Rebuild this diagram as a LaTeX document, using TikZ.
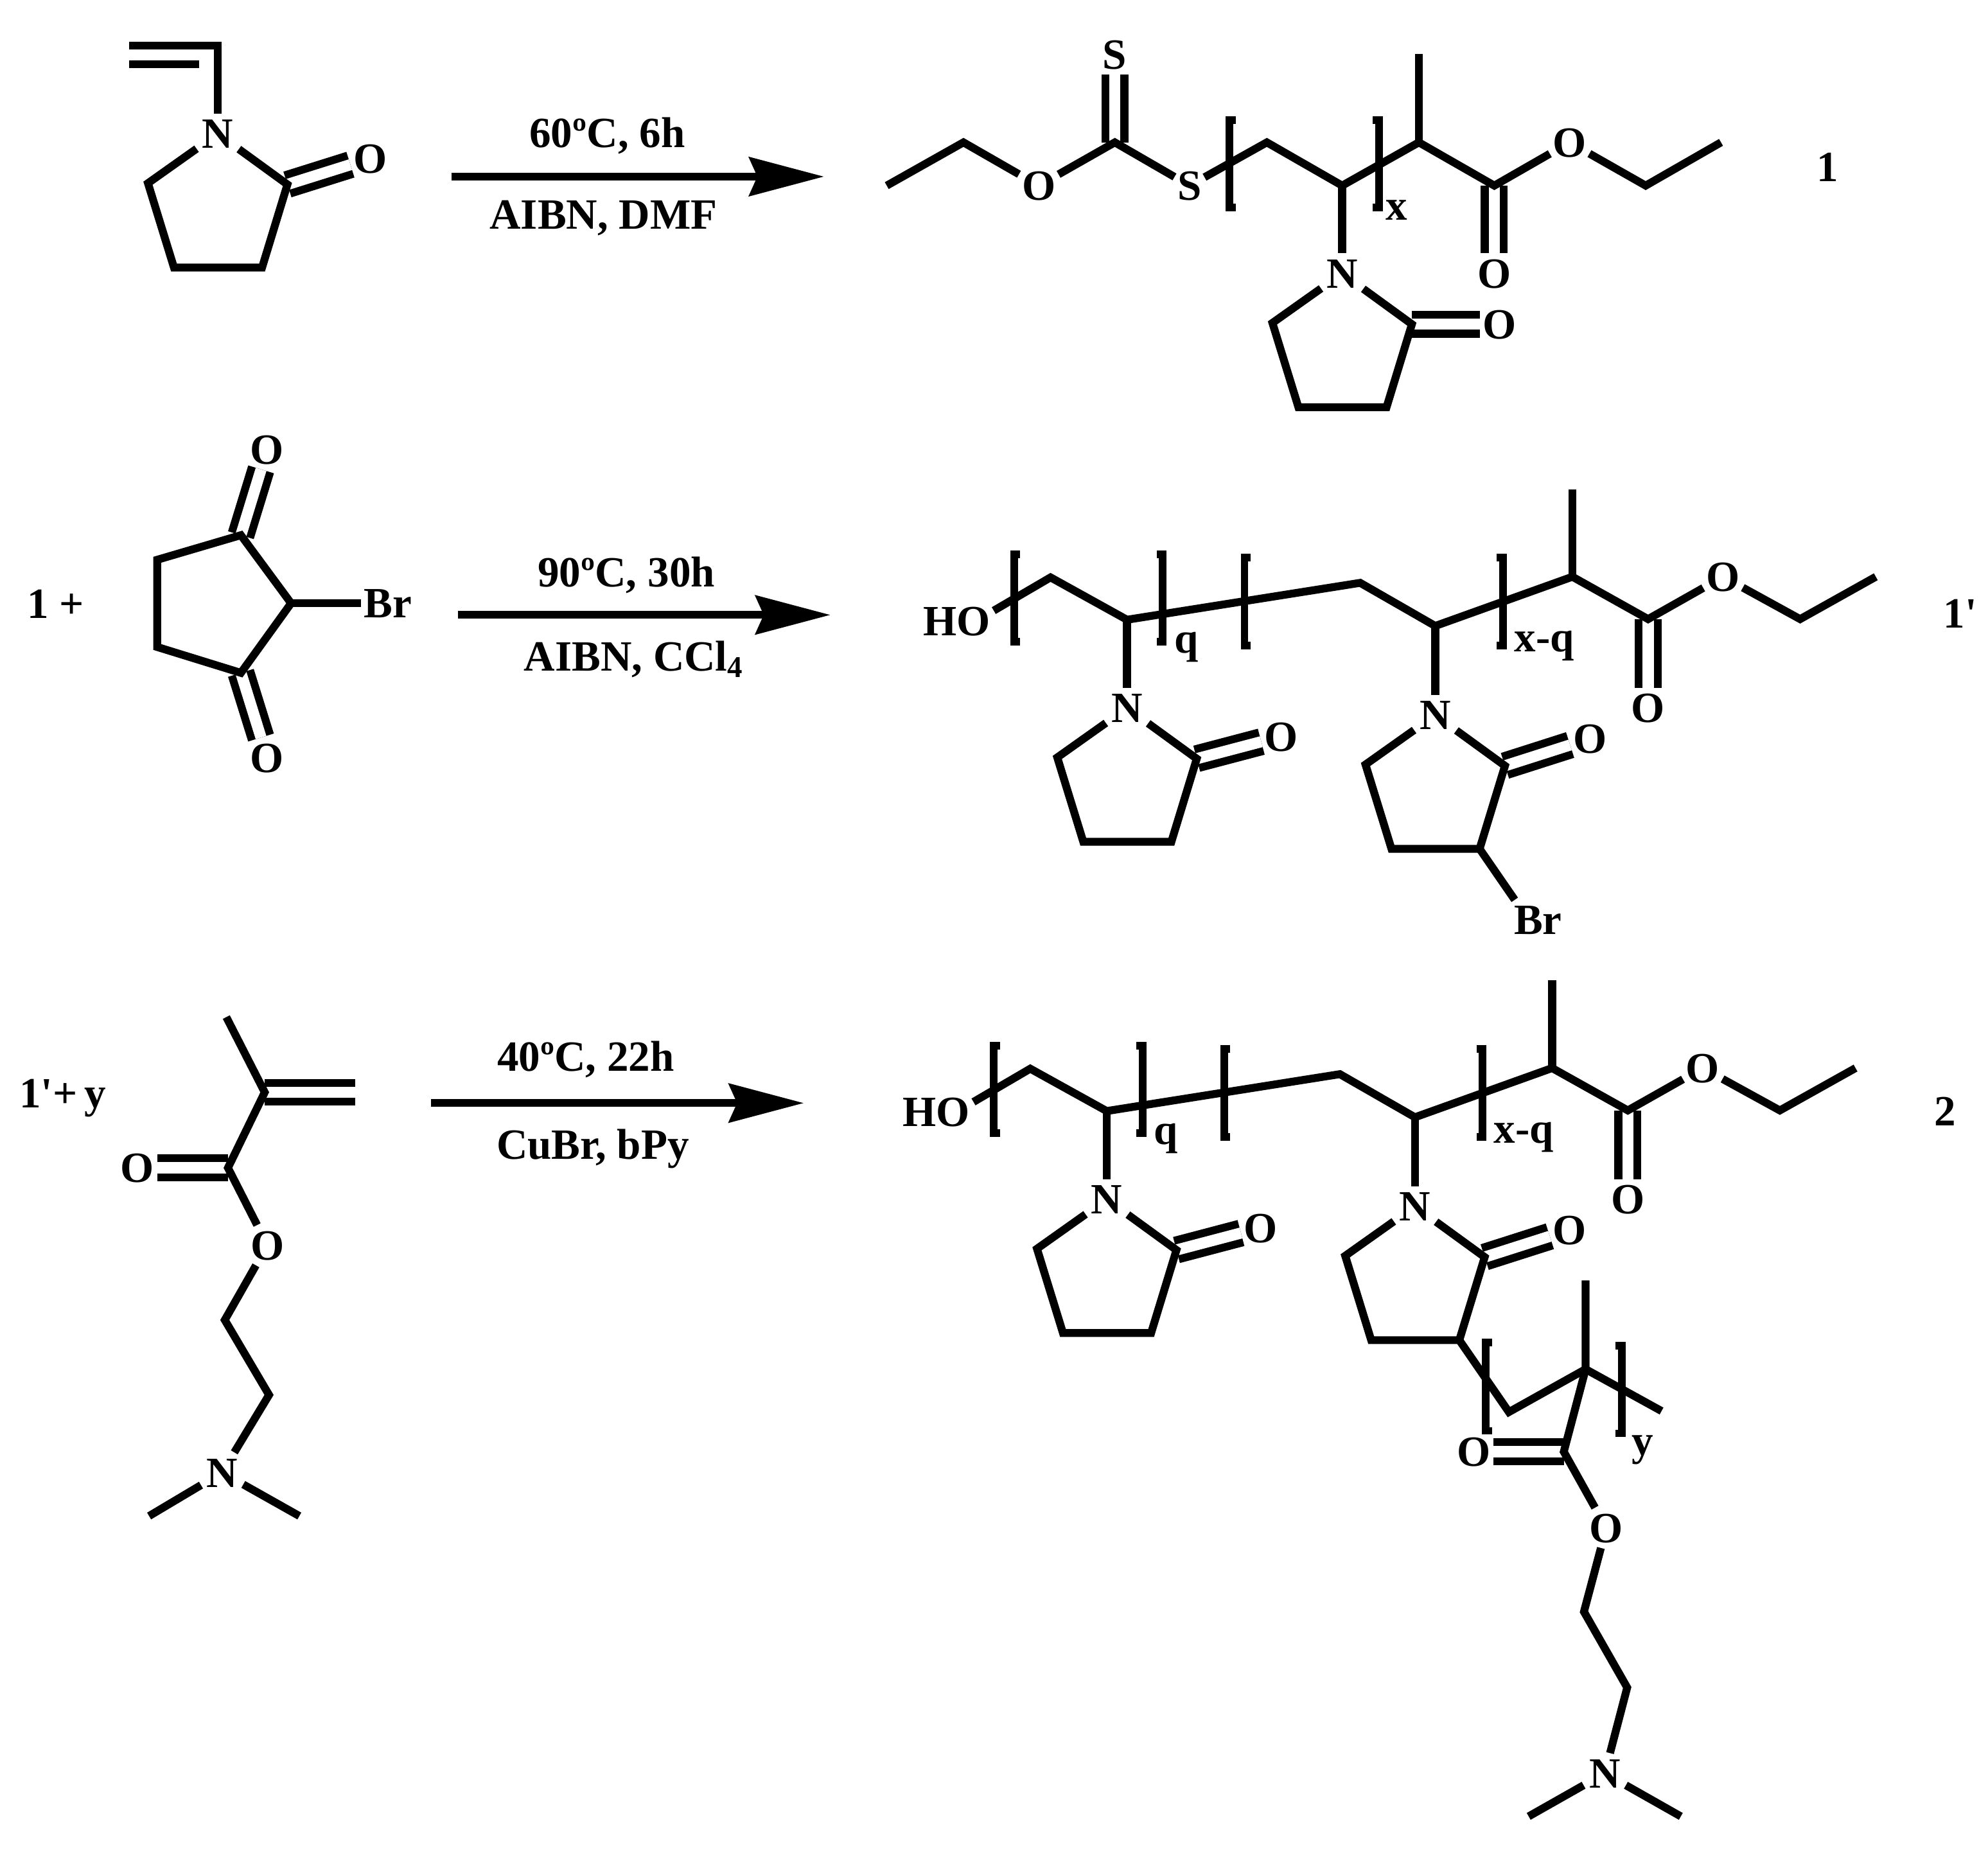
\documentclass[tikz,border=0pt]{standalone}
\usepackage{fontspec}
\setmainfont{Liberation Serif}
\usetikzlibrary{arrows.meta}
\tikzset{
    bond/.style={line width=3.1pt},
    dbl/.style={double,line width=3.1pt,double distance=4.4pt},
    brack/.style={line width=3pt},
    rarrow/.style={line width=3.1pt,-{Stealth[length=29.5pt,width=15.2pt,inset=3.2pt]}},
    atom/.style={inner xsep=1pt,inner ysep=2pt,text height=11.5pt,text depth=0pt,font=\fontsize{17}{20}\selectfont\bfseries},
    natom/.style={atom,inner xsep=2pt},
    lab/.style={anchor=base,inner sep=0pt,font=\fontsize{17}{20}\selectfont\bfseries}
}
\begin{document}
\begin{tikzpicture}[x=.5pt,y=-.5pt]
\useasboundingbox (0,0) rectangle (1568,1464.6);

\foreach \n/\xs/\xe/\ya/\xa/\yb/\ta/\xc/\yc/\tc in {
    1/356/650/139.3/479/116.2/{60ºC, 6h}/476/180.7/{AIBN, DMF},
    2/361/655/485/494/463/{90ºC, 30h}/500/529/{AIBN, CCl\textsubscript{4}},
    3/340/634/870/462/845/{40ºC, 22h}/467.6/914.3/{CuBr, bPy}}
{
    \coordinate (ar\n s) at (\xs,\ya);
    \coordinate (ar\n e) at (\xe,\ya);
    \draw[rarrow] (ar\n s) -- (ar\n e);
    \node[lab] (up\n) at (\xa,\yb) {\ta};
    \node[lab] (dn\n) at (\xc,\yc) {\tc};
}

\node[lab] (no1) at (1441.7,143) {1};
\node[lab] (no1p) at (1546,495) {1\textquotesingle};
\node[lab] (no2) at (1534,888) {2};
\node[lab] (plus1) at (44,487.5) {1 +};
\node[lab] (plus2) at (49.6,873.5) {1\textquotesingle+\,y};

% the lactam rings
\foreach \r/\x/\y/\ox/\oy in {
    a/171.7/105.5/292/125,
    m/1058.6/215.7/1182.7/255.7,
    bl/888.9/558.4/1010.4/580.9,
    br/1132/564/1254/582.6,
    cl/872.9/945.9/994.4/968.4,
    cr/1116/951.5/1238/970.1}
{
    \node[natom] (\r-N) at (\x,\y) {N};
    \node[atom] (\r-O) at (\ox,\oy) {O};
    \coordinate (\r-2) at (\x-55,\y+39);
    \coordinate (\r-3) at (\x-34.5,\y+105.5);
    \coordinate (\r-4) at (\x+35,\y+105.5);
    \coordinate (\r-5) at (\x+55,\y+40);
    \draw[dbl] (\r-5) -- (\r-O);
    \draw[bond] (\r-N) -- (\r-2) -- (\r-3) -- (\r-4) -- (\r-5) -- (\r-N);
}

% vinyl monomer
\coordinate (v1) at (102,35.8);
\coordinate (v2) at (171.7,35.8);
\coordinate (v3) at (102,50.6);
\coordinate (v4) at (157,50.6);
\draw[bond] (v1) -- (v2) -- (a-N);
\draw[bond] (v3) -- (v4);

% chain of product 1
\coordinate (m1) at (699.4,146.4);
\coordinate (m2) at (759.9,112.3);
\node[atom] (mO1) at (819.3,146.4) {O};
\coordinate (m3) at (879.3,112.3);
\node[atom] (mS1) at (879.3,43) {S};
\node[atom] (mS2) at (938.2,146.4) {S};
\coordinate (m4) at (999.2,112.3);
\coordinate (m5) at (1058.6,146.4);
\coordinate (m6) at (1119.1,112.3);
\coordinate (m7) at (1119.1,42.6);
\coordinate (m8) at (1178.6,146.4);
\node[atom] (mO2) at (1178.6,215.7) {O};
\node[atom] (mO3) at (1238,112.3) {O};
\coordinate (m9) at (1298,146.4);
\coordinate (m10) at (1357.4,112.3);
\draw[dbl] (m3) -- (mS1);
\draw[dbl] (m8) -- (mO2);
\draw[bond] (m1) -- (m2) -- (mO1) -- (m3) -- (mS2) -- (m4) -- (m5) -- (m6) -- (m8) -- (mO3) -- (m9) -- (m10);
\draw[bond] (m6) -- (m7);
\draw[bond] (m5) -- (m-N);
\node[lab] (mx) at (1101.6,173.3) {x};
\foreach \x/\d in {969.7/4.8,1087.6/-4.8}
{
    \draw[brack] (\x+\d,94.6) -- (\x,94.6) -- (\x,163.7) -- (\x+\d,163.7);
}

% the same chain in 1' and 2
\foreach \p/\dx/\dy in {b/0/0,c/-16/387.5}
{
    \begin{scope}[shift={(\dx,\dy)}]
    \node[atom] (\p HO) at (754.5,489.6) {HO};
    \coordinate (\p 0) at (783.8,481.6);
    \coordinate (\p 1) at (828.6,455.4);
    \coordinate (\p 2) at (888.9,488.8);
    \coordinate (\p 3) at (1072.8,459.7);
    \coordinate (\p 4) at (1132,493.7);
    \coordinate (\p 5) at (1240.2,454.9);
    \coordinate (\p 6) at (1240.2,385.8);
    \coordinate (\p 7) at (1299.9,488.3);
    \node[atom] (\p O1) at (1299.9,558.4) {O};
    \node[atom] (\p O2) at (1359,454.9) {O};
    \coordinate (\p 8) at (1419.8,488.3);
    \coordinate (\p 9) at (1479.5,454.9);
    \draw[dbl] (\p 7) -- (\p O1);
    \draw[bond] (\p 0) -- (\p 1) -- (\p 2) -- (\p 3) -- (\p 4) -- (\p 5) -- (\p 7) -- (\p O2) -- (\p 8) -- (\p 9);
    \draw[bond] (\p 5) -- (\p 6);
    \draw[bond] (\p 2) -- (\p l-N);
    \draw[bond] (\p 4) -- (\p r-N);
    \node[lab] (\p q) at (935.8,515) {q};
    \node[lab] (\p xq) at (1218,514) {x-q};
    \foreach \x/\d/\ya/\yb in {799.8/4.8/437.3/506,917.1/-4.8/437.3/506,981.6/4.8/439.7/509.3,1185.3/-4.8/439.7/509.3}
    {
        \draw[brack] (\x+\d,\ya) -- (\x,\ya) -- (\x,\yb) -- (\x+\d,\yb);
    }
    \end{scope}
}

% bromide
\node[atom] (brBr) at (1213,725.6) {Br};
\draw[bond] (br-4) -- (brBr.139);

% graft of 2
\coordinate (t1) at (1190.1,1113.7);
\coordinate (t2) at (1250.6,1079.9);
\coordinate (t3) at (1250.6,1009.9);
\coordinate (t4) at (1310.5,1112.9);
\coordinate (t5) at (1233.4,1145);
\node[atom] (tO1) at (1162.4,1145) {O};
\node[atom] (tO2) at (1266.9,1205) {O};
\coordinate (t6) at (1249.3,1271.2);
\coordinate (t7) at (1283.4,1331);
\node[natom] (tN) at (1265.7,1398.6) {N};
\coordinate (t8) at (1205.7,1432.6);
\coordinate (t9) at (1325.7,1432.6);
\draw[dbl] (t5) -- (tO1);
\draw[bond] (cr-4) -- (t1) -- (t2) -- (t4);
\draw[bond] (t3) -- (t2) -- (t5) -- (tO2) -- (t6) -- (t7) -- (tN);
\draw[bond] (t8) -- (tN) -- (t9);
\node[lab] (ty) at (1295.7,1147.5) {y};
\foreach \x/\d/\ya/\yb in {1172/4.8/1059/1128.5,1279/-4.8/1061.5/1130.5}
{
    \draw[brack] (\x+\d,\ya) -- (\x,\ya) -- (\x,\yb) -- (\x+\d,\yb);
}

% dione
\node[atom] (dO1) at (210.8,354.3) {O};
\node[atom] (dO2) at (210.8,597.6) {O};
\node[atom] (dBr) at (305.8,475.8) {Br};
\coordinate (d1) at (190,422.1);
\coordinate (d2) at (124,441.5);
\coordinate (d3) at (124,510.3);
\coordinate (d4) at (190,530.7);
\coordinate (d5) at (229.6,475.8);
\draw[dbl] (d1) -- (dO1);
\draw[dbl] (d4) -- (dO2);
\draw[bond] (d1) -- (d2) -- (d3) -- (d4) -- (d5) -- cycle;
\draw[bond] (d5) -- (dBr);

% methacrylate
\coordinate (e1) at (178.5,802.2);
\coordinate (e2) at (208.8,861.5);
\coordinate (e3) at (280.2,861.5);
\coordinate (e4) at (179.8,921.1);
\node[atom] (eO1) at (108.4,921.1) {O};
\node[atom] (eO2) at (210.9,982.1) {O};
\coordinate (e5) at (177.3,1041.1);
\coordinate (e6) at (212.2,1100.2);
\node[natom] (eN) at (175.2,1161.4) {N};
\coordinate (e7) at (117.6,1195.7);
\coordinate (e8) at (236.1,1195.7);
\draw[dbl] (e2) -- (e3);
\draw[dbl] (e4) -- (eO1);
\draw[bond] (e1) -- (e2) -- (e4) -- (eO2) -- (e5) -- (e6) -- (eN);
\draw[bond] (e7) -- (eN) -- (e8);
\end{tikzpicture}
\end{document}
